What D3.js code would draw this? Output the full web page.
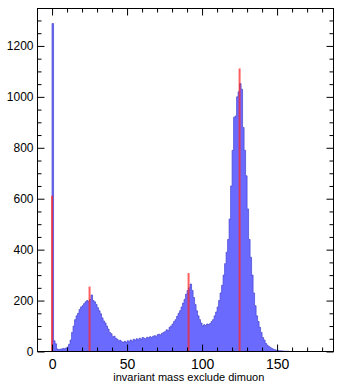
<!DOCTYPE html>
<html>
<head>
<meta charset="utf-8">
<script src="https://cdn.jsdelivr.net/npm/d3@7"></script>
<style>
  body { margin: 0; background: #fff; }
  svg { display: block; font-family: "Liberation Sans", Arial, Helvetica, sans-serif; }
  .tick text { fill: #000; }
</style>
</head>
<body>
<div id="chart"></div>
<script>
// histogram: 1 GeV bins, first bin starts at binStart
const binStart = -2;
const counts = [
  0, 0, 1288, 42, 30, 10, 8, 9, 10, 12, 11, 14, 18, 28, 45, 75, 100, 125, 140, 150,
  165, 175, 180, 188, 195, 200, 196, 205, 222, 200, 195, 185, 172, 160, 148, 132, 120, 112, 100, 88,
  75, 70, 58, 60, 52, 48, 42, 44, 38, 36, 40, 35, 42, 38, 45, 40, 48, 44, 50, 46,
  52, 48, 55, 52, 50, 56, 54, 58, 55, 60, 62, 58, 66, 68, 65, 72, 75, 78, 85, 82,
  95, 100, 108, 118, 125, 138, 150, 160, 175, 190, 205, 225, 240, 250, 265, 240, 212, 185, 160, 140,
  125, 112, 100, 105, 102, 108, 106, 110, 118, 125, 140, 155, 175, 200, 230, 260, 300, 345, 390, 440,
  520, 650, 790, 920, 925, 1000, 1020, 1052, 1030, 880, 790, 690, 560, 440, 370, 300, 230, 180, 140, 118,
  95, 75, 55, 45, 32, 25, 20, 16, 12, 9, 7, 5, 4, 3, 3, 2, 2, 1, 1, 1,
  0, 0
];
// red reference lines
const markPos = [0, 25, 91, 125];
const markVal = [612, 255, 308, 1111];

const xMajor = [0, 50, 100, 150];
const yMajor = [0, 200, 400, 600, 800, 1000, 1200];
const xTitle = 'invariant mass exclude dimuon';

const W = 337, H = 383;
const margin = {top: 8, right: 4, bottom: 32, left: 37};
const width = W - margin.left - margin.right;
const height = H - margin.top - margin.bottom;

const svg = d3.select('#chart').append('svg')
    .attr('width', W)
    .attr('height', H);
const g = svg.append('g')
    .attr('transform', `translate(${margin.left + 0.5},${margin.top + 0.5})`);

const x = d3.scaleLinear().domain([-9.7, 187.6]).range([0, width]);
const y = d3.scaleLinear().domain([0, 1347]).range([height, 0]);

// step histogram
const pts = counts.map((c, i) => [binStart + i, c]);
pts.push([binStart + counts.length, 0]);

const area = d3.area()
    .x(d => x(d[0]))
    .y0(y(0))
    .y1(d => y(d[1]))
    .curve(d3.curveStepAfter);
const line = d3.line()
    .x(d => x(d[0]))
    .y(d => y(d[1]))
    .curve(d3.curveStepAfter);

g.append('path')
    .datum(pts)
    .attr('d', area)
    .attr('fill', 'rgb(106,106,255)');
g.append('path')
    .datum(pts)
    .attr('d', line)
    .attr('fill', 'none')
    .attr('stroke', 'rgb(70,70,210)')
    .attr('stroke-opacity', 0.7)
    .attr('stroke-width', 1);

// red markers
g.selectAll('.mark')
  .data(markPos.map((p, i) => ({p, v: markVal[i]})))
  .enter().append('line')
    .attr('class', 'mark')
    .attr('x1', d => x(d.p)).attr('x2', d => x(d.p))
    .attr('y1', y(0)).attr('y2', d => y(d.v))
    .attr('stroke', 'rgb(255,40,40)')
    .attr('stroke-opacity', 0.75)
    .attr('stroke-width', 2);

// axes, ticks pointing inward
const xMinor = d3.range(0, 190, 10).filter(v => !xMajor.includes(v));
const yMinor = d3.range(0, 1347, 50).filter(v => !yMajor.includes(v));

function ax(gen, scale, vals, size, fmt) {
  return gen(scale).tickValues(vals).tickSize(size).tickPadding(4).tickFormat(fmt);
}

g.append('g').attr('transform', `translate(0,${height})`)
    .call(ax(d3.axisBottom, x, xMajor, -7, d3.format('d')))
    .call(s => s.selectAll('text').attr('font-size', 14).attr('dy', '0.93em'));
g.append('g').attr('transform', `translate(0,${height})`)
    .call(ax(d3.axisBottom, x, xMinor, -4, ''));
g.append('g')
    .call(ax(d3.axisTop, x, xMajor, -7, ''));
g.append('g')
    .call(ax(d3.axisTop, x, xMinor, -4, ''));

g.append('g')
    .call(ax(d3.axisLeft, y, yMajor, -7, d3.format('d')))
    .call(s => s.selectAll('text').attr('font-size', 12).attr('x', -4));
g.append('g')
    .call(ax(d3.axisLeft, y, yMinor, -4, ''));
g.append('g').attr('transform', `translate(${width},0)`)
    .call(ax(d3.axisRight, y, yMajor, -7, ''));
g.append('g').attr('transform', `translate(${width},0)`)
    .call(ax(d3.axisRight, y, yMinor, -4, ''));

g.selectAll('.domain').remove();
g.selectAll('.tick line').attr('stroke', '#000');

g.append('rect')
    .attr('width', width).attr('height', height)
    .attr('fill', 'none').attr('stroke', '#000').attr('stroke-width', 1);

svg.append('text')
    .attr('x', margin.left + x(91.5))
    .attr('y', H - 2)
    .attr('text-anchor', 'middle')
    .attr('font-size', 11)
    .text(xTitle);
</script>
</body>
</html>
